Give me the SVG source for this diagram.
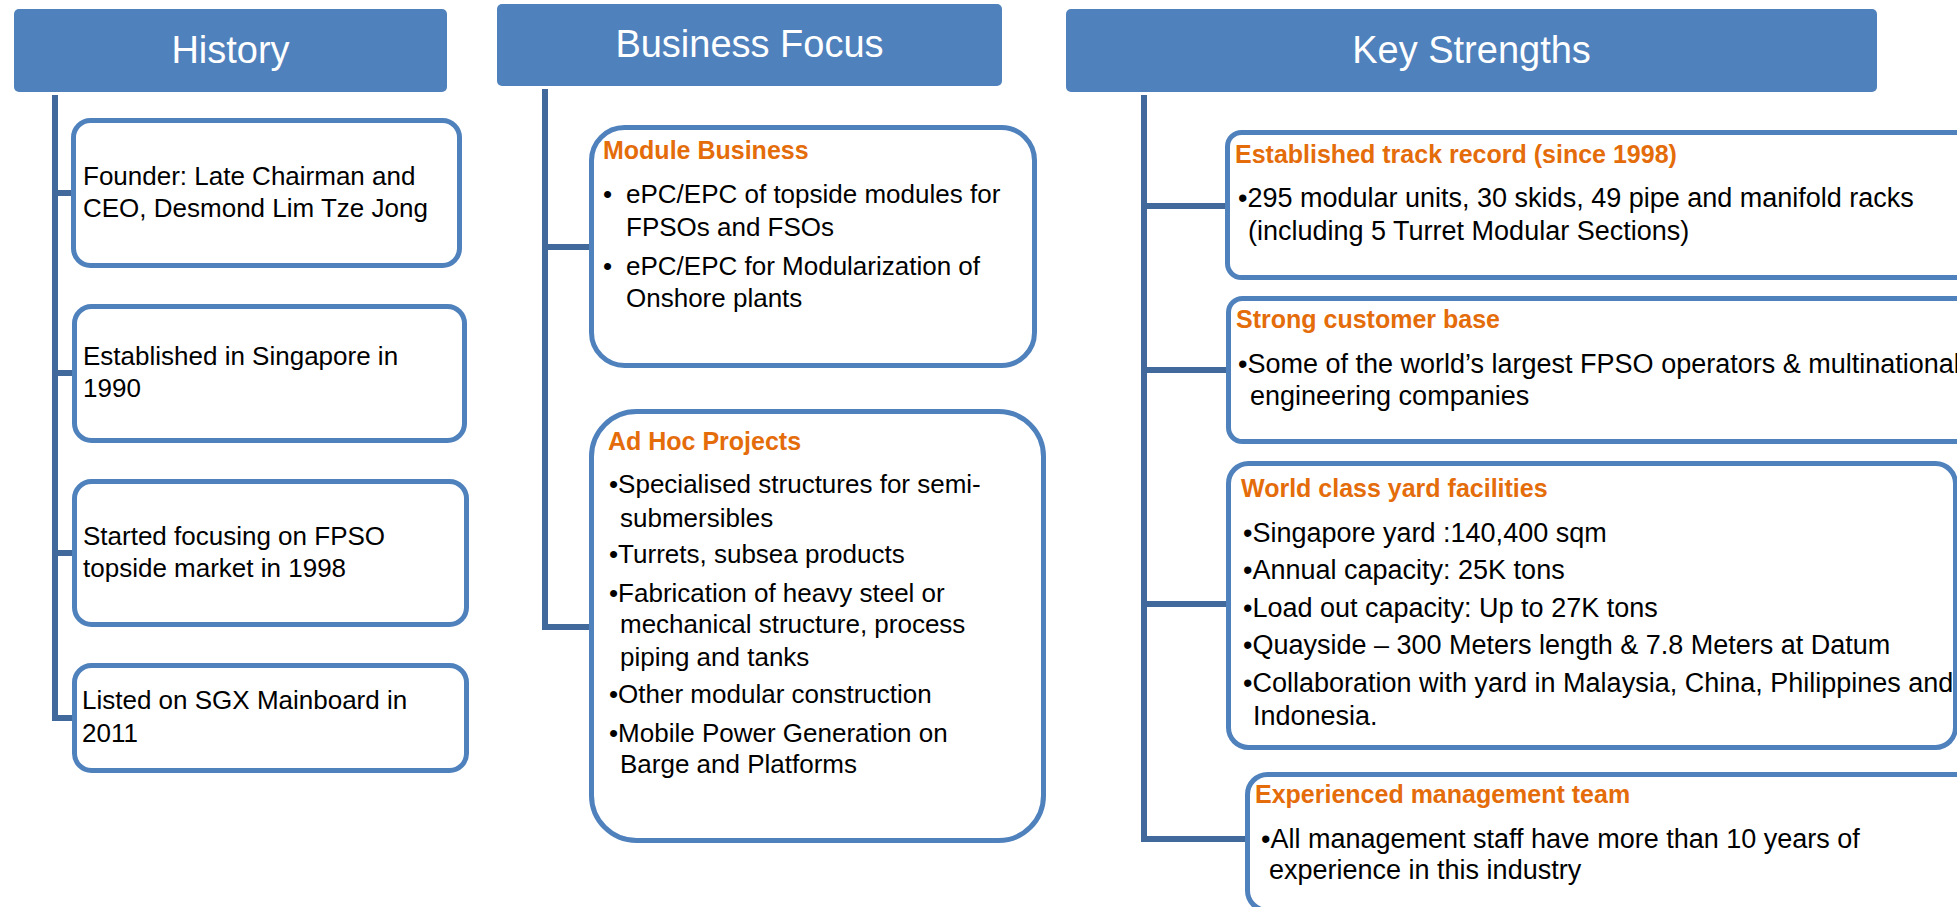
<svg xmlns="http://www.w3.org/2000/svg" width="1957" height="907" viewBox="0 0 1957 907">
<style>
.hdr{fill:#4F81BD;}
.hdrt{fill:#FFFFFF;font-family:"Liberation Sans",Arial,sans-serif;font-size:38px;text-anchor:middle;}
.box{fill:#FFFFFF;stroke:#4F81BD;stroke-width:5;}
.conn{fill:none;stroke:#41699C;stroke-width:6;stroke-linejoin:miter;}
.t{fill:#000000;font-family:"Liberation Sans",Arial,sans-serif;font-size:26px;}
.tr{fill:#000000;font-family:"Liberation Sans",Arial,sans-serif;font-size:27px;}
.ttl{fill:#E46C0A;font-family:"Liberation Sans",Arial,sans-serif;font-size:25px;font-weight:bold;}
</style>
<rect width="1957" height="907" fill="#FFFFFF"/>

<g id="connectors">
<path class="conn" d="M55,95 V718 H73 M55,193 H73 M55,373 H73 M55,553 H73"/>
<path class="conn" d="M545,89 V627 H590 M545,247 H590"/>
<path class="conn" d="M1144,95 V839 H1247 M1144,206 H1226 M1144,370 H1227 M1144,604 H1227"/>
</g>

<g id="header-history">
<rect class="hdr" x="14" y="9" width="433" height="83" rx="5"/>
<text class="hdrt" x="230.5" y="63">History</text>
</g>
<g id="header-business">
<rect class="hdr" x="497" y="4" width="505" height="82" rx="5"/>
<text class="hdrt" x="749.5" y="57">Business Focus</text>
</g>
<g id="header-strengths">
<rect class="hdr" x="1066" y="9" width="811" height="83" rx="5"/>
<text class="hdrt" x="1471.5" y="63">Key Strengths</text>
</g>

<g id="history-founder">
<rect class="box" x="73.5" y="120.5" width="386" height="145" rx="17"/>
<text class="t" x="83" y="185">Founder: Late Chairman and</text>
<text class="t" x="83" y="217">CEO, Desmond Lim Tze Jong</text>
</g>
<g id="history-established">
<rect class="box" x="74.5" y="306.5" width="390" height="134" rx="17"/>
<text class="t" x="83" y="365">Established in Singapore in</text>
<text class="t" x="83" y="397">1990</text>
</g>
<g id="history-fpso">
<rect class="box" x="74.5" y="481.5" width="392" height="143" rx="17"/>
<text class="t" x="83" y="545">Started focusing on FPSO</text>
<text class="t" x="83" y="577">topside market in 1998</text>
</g>
<g id="history-listed">
<rect class="box" x="74.5" y="665.5" width="392" height="105" rx="17"/>
<text class="t" x="82" y="709">Listed on SGX Mainboard in</text>
<text class="t" x="82" y="742">2011</text>
</g>

<g id="business-module">
<rect class="box" x="591.5" y="127.5" width="443" height="238" rx="33"/>
<text class="ttl" x="603" y="159">Module Business</text>
<text class="t" x="603" y="203">•</text>
<text class="t" x="626" y="203">ePC/EPC of topside modules for</text>
<text class="t" x="626" y="236">FPSOs and FSOs</text>
<text class="t" x="603" y="275">•</text>
<text class="t" x="626" y="275">ePC/EPC for Modularization of</text>
<text class="t" x="626" y="307">Onshore plants</text>
</g>
<g id="business-adhoc">
<rect class="box" x="591.5" y="411.5" width="452" height="429" rx="45"/>
<text class="ttl" x="608" y="450">Ad Hoc Projects</text>
<text class="t" x="609" y="493">•Specialised structures for semi-</text>
<text class="t" x="620" y="527">submersibles</text>
<text class="t" x="609" y="563">•Turrets, subsea products</text>
<text class="t" x="609" y="602">•Fabrication of heavy steel or</text>
<text class="t" x="620" y="633">mechanical structure, process</text>
<text class="t" x="620" y="666">piping and tanks</text>
<text class="t" x="609" y="703">•Other modular construction</text>
<text class="t" x="609" y="742">•Mobile Power Generation on</text>
<text class="t" x="620" y="773">Barge and Platforms</text>
</g>

<g id="strength-track">
<rect class="box" x="1227.5" y="132.5" width="780" height="145" rx="14"/>
<text class="ttl" x="1235" y="163">Established track record (since 1998)</text>
<text class="tr" x="1238" y="207">•295 modular units, 30 skids, 49 pipe and manifold racks</text>
<text class="tr" x="1248" y="240">(including 5 Turret Modular Sections)</text>
</g>
<g id="strength-customer">
<rect class="box" x="1228.5" y="298.5" width="780" height="143" rx="14"/>
<text class="ttl" x="1236" y="328">Strong customer base</text>
<text class="tr" x="1238" y="373">•Some of the world’s largest FPSO operators &amp; multinational</text>
<text class="tr" x="1250" y="405">engineering companies</text>
</g>
<g id="strength-yard">
<rect class="box" x="1228.5" y="463.5" width="727" height="284" rx="20"/>
<text class="ttl" x="1241" y="497">World class yard facilities</text>
<text class="tr" x="1243" y="542">•Singapore yard :140,400 sqm</text>
<text class="tr" x="1243" y="579">•Annual capacity: 25K tons</text>
<text class="tr" x="1243" y="617">•Load out capacity: Up to 27K tons</text>
<text class="tr" x="1243" y="654">•Quayside – 300 Meters length &amp; 7.8 Meters at Datum</text>
<text class="tr" x="1243" y="692">•Collaboration with yard in Malaysia, China, Philippines and</text>
<text class="tr" x="1253" y="725">Indonesia.</text>
</g>
<g id="strength-management">
<rect class="box" x="1247.5" y="774.5" width="760" height="136" rx="20"/>
<text class="ttl" x="1255" y="803">Experienced management team</text>
<text class="tr" x="1261" y="848">•All management staff have more than 10 years of</text>
<text class="tr" x="1269" y="879">experience in this industry</text>
</g>
</svg>
